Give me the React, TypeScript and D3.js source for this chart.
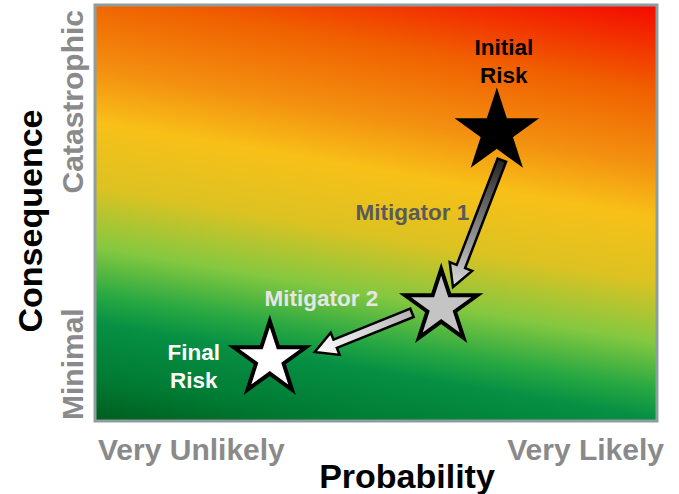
import React, { useEffect, useRef } from "react";
import * as d3 from "d3";

// risk path: initial -> after mitigator 1 -> final (probability / consequence on 0..10)
const stageNames = ["Initial Risk", "Mitigator 1", "Final Risk"];
const stageProbability = [7.15, 6.16, 3.11];
const stageConsequence = [6.95, 2.74, 1.49];

// arrows between stages
const arrowNames = ["Mitigator 1", "Mitigator 2"];
const arrowFromP = [7.24, 5.64];
const arrowFromC = [6.27, 2.6];
const arrowToP = [6.37, 3.91];
const arrowToC = [3.22, 1.66];

const xTickLabels = ["Very Unlikely", "Very Likely"];
const yTickLabels = ["Minimal", "Catastrophic"];

const W = 679;
const H = 494;
const FONT = "'Liberation Sans', Arial, sans-serif";

const App = () => {
  const ref = useRef<SVGSVGElement>(null);

  useEffect(() => {
    const svg = d3.select(ref.current);
    svg.selectAll("*").remove();

    const x = d3.scaleLinear().domain([0, 10]).range([95, 657]);
    const y = d3.scaleLinear().domain([0, 10]).range([421, 5]);

    const defs = svg.append("defs");

    // background gradient, tilted so bands sit lower on the right
    const bg = defs
      .append("linearGradient")
      .attr("id", "bg")
      .attr("gradientUnits", "userSpaceOnUse")
      .attr("x1", 376)
      .attr("y1", -43)
      .attr("x2", 291.4)
      .attr("y2", 454.7);
    [
      [0, "#f50800"],
      [0.17, "#f06000"],
      [0.3125, "#f39010"],
      [0.416, "#f8c018"],
      [0.543, "#dcc222"],
      [0.66, "#84c840"],
      [0.752, "#28a842"],
      [0.809, "#069044"],
      [0.92, "#007a32"],
      [1, "#005c1e"],
    ].forEach(([o, c]) => bg.append("stop").attr("offset", o).attr("stop-color", c));

    svg
      .append("rect")
      .attr("x", x(0))
      .attr("y", y(10))
      .attr("width", x(10) - x(0))
      .attr("height", y(0) - y(10))
      .attr("fill", "url(#bg)")
      .attr("stroke", "#8e9e9f")
      .attr("stroke-width", 3);

    // arrows
    const arrowFills = [
      ["#262626", "#dadada"],
      ["#b4b4b4", "#ffffff"],
    ];
    arrowNames.forEach((name, i) => {
      const sx = x(arrowFromP[i]);
      const sy = y(arrowFromC[i]);
      const tx = x(arrowToP[i]);
      const ty = y(arrowToC[i]);
      const len = Math.hypot(tx - sx, ty - sy);
      const ux = (tx - sx) / len;
      const uy = (ty - sy) / len;
      const nx = -uy;
      const ny = ux;
      const w = 4.5;
      const hw = 12;
      const hl = 22;
      const bx = tx - ux * hl;
      const by = ty - uy * hl;
      const pts: [number, number][] = [
        [sx + nx * w, sy + ny * w],
        [bx + nx * w, by + ny * w],
        [bx + nx * hw, by + ny * hw],
        [tx, ty],
        [bx - nx * hw, by - ny * hw],
        [bx - nx * w, by - ny * w],
        [sx - nx * w, sy - ny * w],
      ];
      const g = defs
        .append("linearGradient")
        .attr("id", "arrow" + i)
        .attr("gradientUnits", "userSpaceOnUse")
        .attr("x1", sx)
        .attr("y1", sy)
        .attr("x2", tx)
        .attr("y2", ty);
      g.append("stop").attr("offset", 0).attr("stop-color", arrowFills[i][0]);
      g.append("stop").attr("offset", 1).attr("stop-color", arrowFills[i][1]);
      svg
        .append("path")
        .attr("d", "M" + pts.map((p) => p.join(",")).join("L") + "Z")
        .attr("fill", `url(#arrow${i})`)
        .attr("stroke", "#000")
        .attr("stroke-width", 2.5)
        .attr("stroke-linejoin", "miter");
    });

    // stars
    const R = 38;
    const star = d3.symbol().type(d3.symbolStar).size((R * R) / 0.8908130915292852);
    const starFill = ["#000000", "#c4c4c4", "#ffffff"];
    stageNames.forEach((name, i) => {
      svg
        .append("path")
        .attr("d", star() as string)
        .attr("transform", `translate(${x(stageProbability[i])},${y(stageConsequence[i])})`)
        .attr("fill", starFill[i])
        .attr("stroke", "#000")
        .attr("stroke-width", 4)
        .attr("stroke-linejoin", "miter");
    });

    const label = (
      tx: number,
      ty: number,
      lines: string[],
      color: string,
      anchor: string
    ) => {
      const t = svg
        .append("text")
        .attr("font-family", FONT)
        .attr("font-weight", "bold")
        .attr("font-size", 22.5)
        .attr("fill", color)
        .attr("text-anchor", anchor);
      lines.forEach((l, k) =>
        t.append("tspan").attr("x", tx).attr("y", ty + k * 28).text(l)
      );
    };

    const px = (i: number) => x(stageProbability[i]);
    const py = (i: number) => y(stageConsequence[i]);
    label(px(0) + 7, py(0) - 77, stageNames[0].split(" "), "#000", "middle");
    label(px(1) + 28, py(1) - 87, [arrowNames[0]], "#5a5a5a", "end");
    label(px(1) - 63, py(1) - 1, [arrowNames[1]], "#e6e6e6", "end");
    label(px(2) - 76, py(2) + 1, stageNames[2].split(" "), "#fff", "middle");

    // axis tick labels
    const gray = "#8a8a8a";
    const tick = svg
      .append("g")
      .attr("font-family", FONT)
      .attr("font-weight", "bold")
      .attr("font-size", 30)
      .attr("fill", gray);
    tick
      .append("text")
      .attr("x", x(0) + 3)
      .attr("y", 460)
      .text(xTickLabels[0]);
    tick
      .append("text")
      .attr("x", x(10) + 7)
      .attr("y", 460)
      .attr("text-anchor", "end")
      .text(xTickLabels[1]);
    tick
      .append("text")
      .attr("transform", `translate(83,${y(0) - 1}) rotate(-90)`)
      .text(yTickLabels[0]);
    tick
      .append("text")
      .attr("transform", `translate(83,${y(10) + 5}) rotate(-90)`)
      .attr("text-anchor", "end")
      .text(yTickLabels[1]);

    // axis titles
    svg
      .append("text")
      .attr("x", 407)
      .attr("y", 488)
      .attr("text-anchor", "middle")
      .attr("font-family", FONT)
      .attr("font-weight", "bold")
      .attr("font-size", 34)
      .attr("fill", "#000")
      .text("Probability");
    svg
      .append("text")
      .attr("transform", "translate(42,221) rotate(-90)")
      .attr("text-anchor", "middle")
      .attr("font-family", FONT)
      .attr("font-weight", "bold")
      .attr("font-size", 34)
      .attr("fill", "#000")
      .text("Consequence");
  }, []);

  return (
    <svg
      ref={ref}
      width={W}
      height={H}
      style={{ position: "absolute", left: 0, top: 0, background: "#fff" }}
    />
  );
};

export default App;
